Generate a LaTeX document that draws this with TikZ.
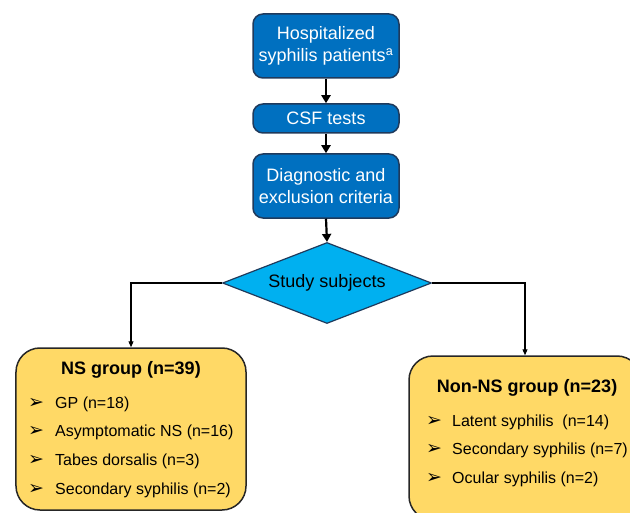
\documentclass[tikz,border=0pt]{standalone}
\usepackage{fontspec}
\setmainfont{Liberation Sans}
\newfontfamily\bulletfont{DejaVu Sans}
\usetikzlibrary{shapes.geometric,arrows.meta}
\definecolor{boxblue}{HTML}{0070C0}
\definecolor{boxedge}{HTML}{1F3A5C}
\definecolor{diacyan}{HTML}{00B0F0}
\definecolor{grpyellow}{HTML}{FFD966}
\tikzset{
  flowbox/.style={draw=boxedge, line width=1.5bp, fill=boxblue, rounded corners=10bp, text=white, align=center, font=\fontsize{18bp}{22bp}\selectfont, inner sep=0},
  grpbox/.style={draw=black!85, line width=1.5bp, fill=grpyellow, rounded corners=24bp},
  thickarrow/.style={line width=2.2bp, -{Triangle[length=8bp,width=9bp]}},
  thinarrow/.style={line width=1.1bp, -{Triangle[length=6bp,width=5bp]}},
  item/.style={anchor=base west, inner sep=0, font=\fontsize{16bp}{19bp}\selectfont},
  grptitle/.style={inner sep=0, font=\fontsize{18bp}{22bp}\selectfont\bfseries}
}
\newcommand{\bul}[1]{\makebox[#1][l]{\bulletfont\fontsize{19bp}{20bp}\selectfont ➢}}
\begin{document}
\begin{tikzpicture}[x=1bp,y=-1bp]
\useasboundingbox (0,0) rectangle (630,513);
\clip (0,0) rectangle (630,513);
% blue boxes
\node[flowbox, minimum width=146bp, minimum height=64bp] (hosp) at (326,46) {Hospitalized\\syphilis patients\textsuperscript{a}};
\node[flowbox, minimum width=146bp, minimum height=29bp] (csf) at (326,118.5) {CSF tests};
\node[flowbox, minimum width=146bp, minimum height=64bp] (diag) at (326,186) {Diagnostic and\\exclusion criteria};
% diamond
\node[diamond, draw=boxedge, line width=1.2bp, fill=diacyan, aspect=2.58, minimum width=209bp, minimum height=81bp, inner sep=0, font=\fontsize{18bp}{22bp}\selectfont] (subj) at (327,283) {Study subjects};
% group boxes
\node[grpbox, minimum width=230bp, minimum height=162bp] (ns) at (131,429) {};
\node[grpbox, minimum width=232bp, minimum height=164bp] (non) at (525,438) {};
% arrows
\draw[thickarrow] (hosp.south) -- (csf.north);
\draw[thickarrow] (csf.south) -- (diag.north);
\draw[thickarrow] (diag.south) -- (subj.north);
\draw[thinarrow] (subj.west) -| (ns.north);
\draw[thinarrow] (subj.east) -| (non.north);
% NS contents
\node[grptitle] (nst) at (131,370) {NS group (n=39)};
\node[item] (ns1) at (28,408) {\bul{27bp}GP (n=18)};
\node[item] (ns2) at (28,436.5) {\bul{27bp}Asymptomatic NS (n=16)};
\node[item] (ns3) at (28,465) {\bul{27bp}Tabes dorsalis (n=3)};
\node[item] (ns4) at (28,494) {\bul{27bp}Secondary syphilis (n=2)};
% Non-NS contents
\node[grptitle] (nont) at (527,388) {Non-NS group (n=23)};
\node[item] (non1) at (426,426) {\bul{26bp}Latent syphilis\ \ (n=14)};
\node[item] (non2) at (426,454) {\bul{26bp}Secondary syphilis (n=7)};
\node[item] (non3) at (426,483) {\bul{26bp}Ocular syphilis (n=2)};
\end{tikzpicture}
\end{document}
